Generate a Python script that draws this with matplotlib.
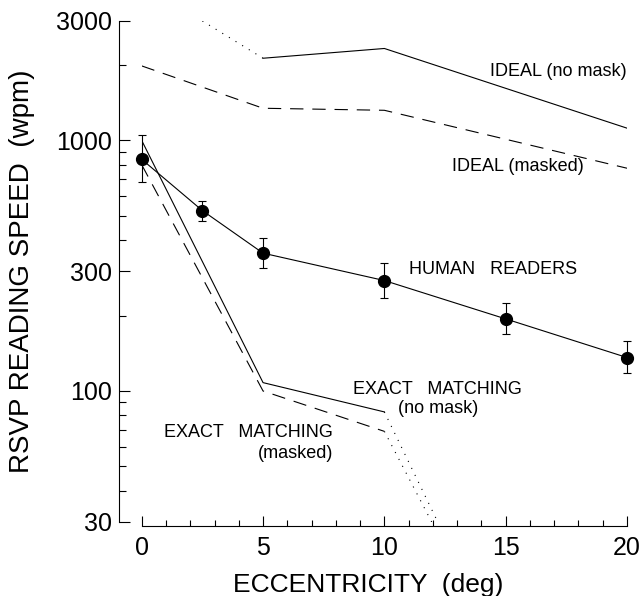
import numpy as np
import matplotlib.pyplot as plt
from matplotlib.ticker import FixedLocator, NullFormatter

plt.rcParams['font.family'] = ['Liberation Sans', 'DejaVu Sans']

# RSVP reading speed (wpm) vs. eccentricity (deg)
HUMAN_ECC = [0, 2.5, 5, 10, 15, 20]
HUMAN_WPM = [841, 525, 355, 276, 194, 136]
HUMAN_HI = [1052, 573, 407, 323, 224, 159]
HUMAN_LO = [685, 479, 311, 236, 169, 118]

IDEAL_NOMASK_ECC = [5, 10, 20]
IDEAL_NOMASK_WPM = [2130, 2330, 1120]
IDEAL_NOMASK_EXTRAP_ECC = [2.5, 5]
IDEAL_NOMASK_EXTRAP_WPM = [3000, 2130]

IDEAL_MASKED_ECC = [0, 5, 10, 20]
IDEAL_MASKED_WPM = [1985, 1345, 1320, 775]

EXACT_NOMASK_ECC = [0, 5, 10]
EXACT_NOMASK_WPM = [1000, 108, 82.5]
EXACT_NOMASK_EXTRAP_ECC = [10, 12.2]
EXACT_NOMASK_EXTRAP_WPM = [82.5, 30]

EXACT_MASKED_ECC = [0, 5, 10]
EXACT_MASKED_WPM = [800, 100, 69]
EXACT_MASKED_EXTRAP_ECC = [10, 11.95]
EXACT_MASKED_EXTRAP_WPM = [69, 30]

Y_MAJOR = [30, 100, 300, 1000, 3000]
Y_MINOR = [40, 50, 60, 70, 80, 90, 200, 400, 500, 600, 700, 800, 900, 2000]
X_MAJOR = [0, 5, 10, 15, 20]

LW = 0.8
DASHED = (0, (12, 8))
DOTTED = (0, (1, 6))

fig = plt.figure(figsize=(6.41, 5.96), dpi=100)
ax = fig.add_axes([0.2211, 0.1242, 0.7571, 0.8406])
ax.set_yscale('log')

# model curves
ax.plot(IDEAL_NOMASK_ECC, IDEAL_NOMASK_WPM, color='k', lw=LW)
ax.plot(IDEAL_NOMASK_EXTRAP_ECC, IDEAL_NOMASK_EXTRAP_WPM, color='k', lw=LW, ls=DOTTED)
ax.plot(IDEAL_MASKED_ECC, IDEAL_MASKED_WPM, color='k', lw=LW, ls=DASHED)
ax.plot(EXACT_NOMASK_ECC, EXACT_NOMASK_WPM, color='k', lw=LW)
ax.plot(EXACT_NOMASK_EXTRAP_ECC, EXACT_NOMASK_EXTRAP_WPM, color='k', lw=LW, ls=DOTTED)
ax.plot(EXACT_MASKED_ECC, EXACT_MASKED_WPM, color='k', lw=LW, ls=DASHED)
ax.plot(EXACT_MASKED_EXTRAP_ECC, EXACT_MASKED_EXTRAP_WPM, color='k', lw=LW, ls=DOTTED)

# human data with error bars
wpm = np.array(HUMAN_WPM)
yerr = [wpm - np.array(HUMAN_LO), np.array(HUMAN_HI) - wpm]
eb = ax.errorbar(HUMAN_ECC, wpm, yerr=yerr, fmt='o-', color='k', ms=8.5, lw=LW,
                 elinewidth=LW, capsize=3, capthick=LW, zorder=5)
for art in eb.get_children():
    art.set_clip_on(False)

ax.set_xlim(0, 20)
ax.set_ylim(30, 3000)

for side in ['top', 'right']:
    ax.spines[side].set_visible(False)
ax.spines['left'].set_position(('outward', 16.7))
ax.spines['bottom'].set_position(('outward', 3.2))
for side in ['left', 'bottom']:
    ax.spines[side].set_linewidth(LW)

ax.yaxis.set_major_locator(FixedLocator(Y_MAJOR))
ax.yaxis.set_minor_locator(FixedLocator(Y_MINOR))
ax.yaxis.set_minor_formatter(NullFormatter())
ax.set_yticklabels([str(v) for v in Y_MAJOR])
ax.set_xticks(X_MAJOR)
ax.set_xticklabels([str(v) for v in X_MAJOR])
ax.xaxis.set_minor_locator(FixedLocator([v for v in range(21) if v % 5]))

ax.tick_params(axis='both', which='both', direction='in', width=LW, labelsize=18)
ax.tick_params(axis='y', which='major', length=8, pad=4.7)
ax.tick_params(axis='y', which='minor', length=5)
ax.tick_params(axis='x', which='major', length=7.5, pad=7)
ax.tick_params(axis='x', which='minor', length=4)

# curve labels
fs = 13
ax.text(20, 1880, 'IDEAL (no mask)', ha='right', va='center', fontsize=fs)
ax.text(18.2, 785, 'IDEAL (masked)', ha='right', va='center', fontsize=fs)
ax.text(11.0, 305, 'HUMAN   READERS', ha='left', va='center', fontsize=fs)
ax.text(12.18, 101, 'EXACT   MATCHING', ha='center', va='center', fontsize=fs)
ax.text(12.2, 85.5, '(no mask)', ha='center', va='center', fontsize=fs)
ax.text(7.89, 68.2, 'EXACT   MATCHING', ha='right', va='center', fontsize=fs)
ax.text(7.89, 56.5, '(masked)', ha='right', va='center', fontsize=fs)

fig.text(22 / 641, 1 - 271.5 / 596, 'RSVP READING SPEED  (wpm)', rotation=90,
         ha='center', va='center', fontsize=20)
fig.text(368 / 641, 1 - 585 / 596, 'ECCENTRICITY  (deg)', ha='center', va='center',
         fontsize=19)

fig.savefig('out.png', dpi=100)
